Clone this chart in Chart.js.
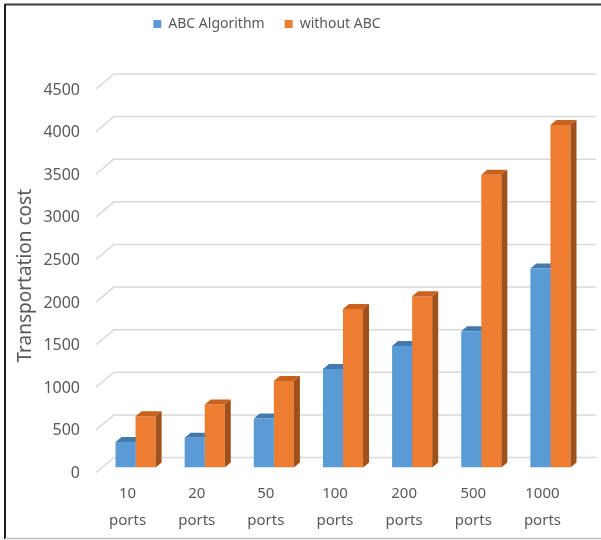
<!DOCTYPE html>
<html>
<head>
<meta charset="utf-8">
<script src="https://cdn.jsdelivr.net/npm/chart.js@4.4.1/dist/chart.umd.min.js"></script>
<style>
  html, body { margin: 0; padding: 0; background: #ffffff; }
  #wrap { position: relative; width: 601px; height: 540px; }
</style>
</head>
<body>
<div id="wrap"><canvas id="c" width="601" height="540"></canvas></div>
<script>
// ---- data ----
const categories = [["10", "ports"], ["20", "ports"], ["50", "ports"], ["100", "ports"], ["200", "ports"], ["500", "ports"], ["1000", "ports"]];
const seriesNames = ["ABC Algorithm", "without ABC"];
const abcValues = [300, 350, 575, 1155, 1425, 1600, 2335];
const withoutAbcValues = [600, 740, 1015, 1860, 2010, 3435, 4020];
const yTicks = [0, 500, 1000, 1500, 2000, 2500, 3000, 3500, 4000, 4500];
const yTitle = "Transportation cost";

// ---- styles ----
const faces = [
  { front: "#5B9BD5", top: "#4479AE", side: "#3E6F9E" },
  { front: "#ED7D31", top: "#C8621E", side: "#A0501B" }
];
const DX = 6, DY = -5;         // bar depth offset
const GRID_BACK = -10, GRID_FRONT = 5, GRID_DX = 18;

function draw3d(chart, idx) {
  const meta = chart.getDatasetMeta(idx);
  const ctx = chart.ctx;
  const f = faces[idx];
  ctx.save();
  meta.data.forEach(el => {
    const p = el.getProps(["x", "y", "base", "width"], true);
    const l = p.x - p.width / 2, r = p.x + p.width / 2;
    ctx.fillStyle = f.top;
    ctx.beginPath();
    ctx.moveTo(l, p.y); ctx.lineTo(r, p.y);
    ctx.lineTo(r + DX, p.y + DY); ctx.lineTo(l + DX, p.y + DY);
    ctx.closePath(); ctx.fill();
    ctx.fillStyle = f.side;
    ctx.beginPath();
    ctx.moveTo(r, p.y); ctx.lineTo(r + DX, p.y + DY);
    ctx.lineTo(r + DX, p.base + DY); ctx.lineTo(r, p.base);
    ctx.closePath(); ctx.fill();
  });
  ctx.restore();
}

const depthPlugin = {
  id: "depth",
  beforeDraw(chart) {
    const ctx = chart.ctx;
    ctx.save();
    ctx.lineWidth = 2;
    ctx.strokeStyle = "#3a3a3a";
    ctx.beginPath(); ctx.moveTo(5, 4.5); ctx.lineTo(601, 4.5); ctx.stroke();
    ctx.strokeStyle = "#1e1e1e";
    ctx.beginPath(); ctx.moveTo(5, 4); ctx.lineTo(5, 539); ctx.stroke();
    ctx.lineWidth = 1.5;
    ctx.strokeStyle = "#bdbdbd";
    ctx.beginPath(); ctx.moveTo(5, 538.5); ctx.lineTo(601, 538.5); ctx.stroke();
    const ys = chart.scales.y, a = chart.chartArea;
    ctx.strokeStyle = "#d9d9d9";
    ctx.lineWidth = 1.5;
    ys.ticks.forEach(t => {
      const y = ys.getPixelForValue(t.value);
      ctx.beginPath();
      ctx.moveTo(a.left - 5, y + GRID_FRONT);
      ctx.lineTo(a.left - 5 + GRID_DX, y + GRID_BACK);
      ctx.lineTo(a.right + 11, y + GRID_BACK);
      ctx.stroke();
    });
    ctx.restore();
  },
  beforeDatasetsDraw(chart) {
    for (let i = 0; i < chart.data.datasets.length - 1; i++) draw3d(chart, i);
  },
  afterDatasetsDraw(chart) {
    draw3d(chart, chart.data.datasets.length - 1);
  },
  afterLayout(chart) {
    const lg = chart.legend;
    if (!lg) return;
    const h = lg.bottom - lg.top;
    lg.top = -3; lg.bottom = lg.top + h;
    const cx = 267, half = 160;
    lg.left = cx - half; lg.right = cx + half;
  }
};

new Chart(document.getElementById("c"), {
  type: "bar",
  data: {
    labels: categories,
    datasets: [
      { label: seriesNames[0], data: abcValues, backgroundColor: faces[0].front },
      { label: seriesNames[1], data: withoutAbcValues, backgroundColor: faces[1].front }
    ]
  },
  options: {
    responsive: false,
    animation: false,
    devicePixelRatio: 1,
    layout: { padding: { left: 0, right: 16, top: 40, bottom: 0 } },
    datasets: { bar: { barPercentage: 1, categoryPercentage: 0.58 } },
    plugins: {
      legend: {
        position: "top",
        labels: {
          boxWidth: 8, boxHeight: 8, padding: 20,
          color: "#595959",
          font: { family: "'Noto Sans'", size: 14 }
        }
      },
      tooltip: { enabled: false }
    },
    scales: {
      x: {
        grid: { display: false, drawTicks: false },
        border: { display: false },
        ticks: {
          color: "#595959", padding: 13, labelOffset: -8, maxRotation: 0, autoSkip: false,
          font: { family: "'Noto Sans'", size: 15, lineHeight: 1.8 }
        },
        afterFit(s) { s.height = 72.5; }
      },
      y: {
        min: 0, max: 4500,
        afterBuildTicks(s) { s.ticks = yTicks.map(v => ({ value: v })); },
        grid: { display: false, drawTicks: false },
        border: { display: false },
        ticks: {
          color: "#595959", padding: 21, labelOffset: 6,
          font: { family: "'Noto Sans'", size: 16 },
          callback: v => String(v)
        },
        title: {
          display: true, text: yTitle, color: "#595959",
          padding: { top: 14, bottom: 0 },
          font: { family: "'Noto Sans'", size: 19 }
        },
        afterFit(s) { s.width = 101; }
      }
    }
  },
  plugins: [depthPlugin]
});
</script>
</body>
</html>
